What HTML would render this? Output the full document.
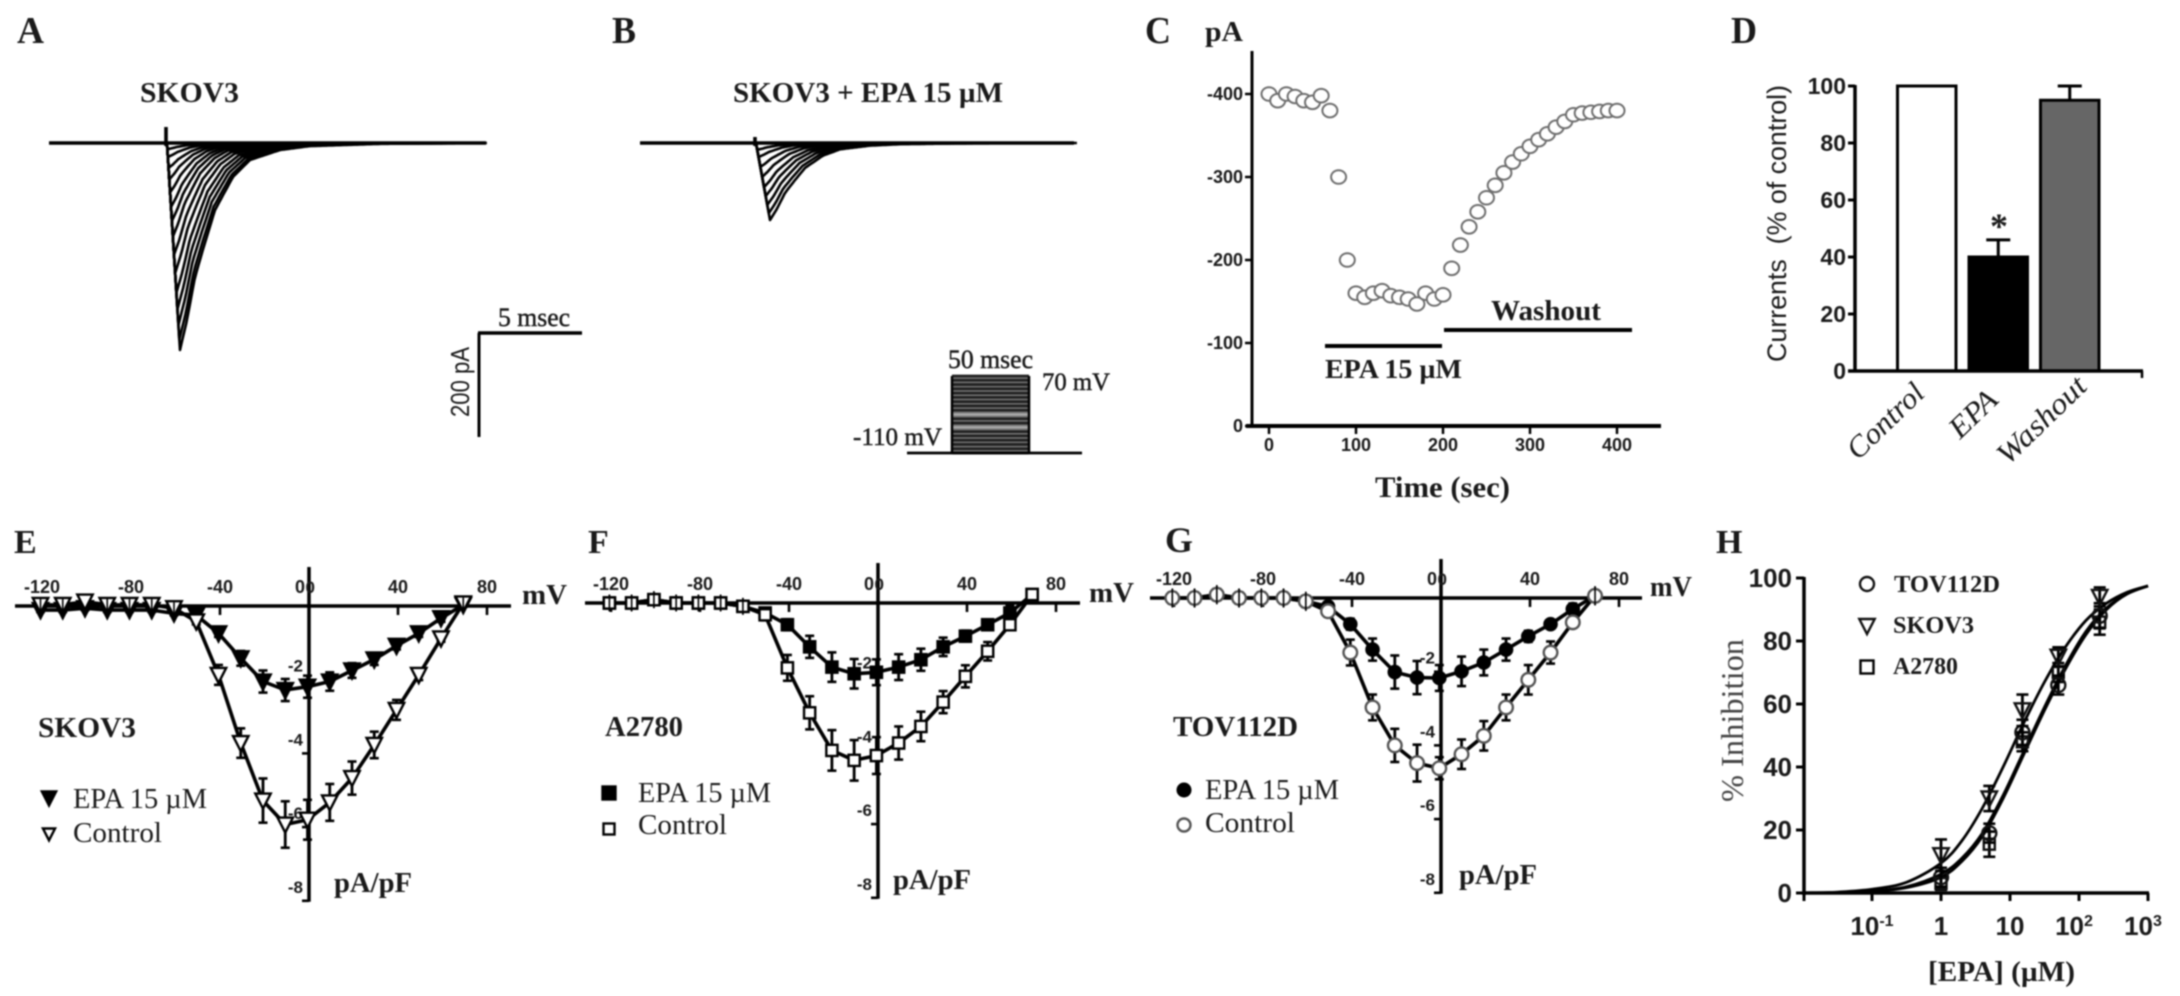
<!DOCTYPE html>
<html lang="en">
<head>
<meta charset="utf-8">
<title>EPA inhibition of sodium currents in ovarian cancer cells</title>
<style>
html,body{margin:0;padding:0;background:#fff;}
#figure{display:block;width:2180px;height:996px;filter:blur(0.8px);}
text{fill:#1a1a1a;}
.serif{font-family:"Liberation Serif",serif;}
.sans{font-family:"Liberation Sans",sans-serif;}
.b{font-weight:bold;}
.m{stroke:#1a1a1a;stroke-width:0.45;}
</style>
</head>
<body>
<svg id="figure" xmlns="http://www.w3.org/2000/svg" width="2180" height="996" viewBox="0 0 2180 996">
<rect x="0" y="0" width="2180" height="996" fill="#fff"/>
<g id="plots"></g>

<g class="serif b">
<text x="17" y="43" font-size="38" textLength="27" lengthAdjust="spacingAndGlyphs">A</text>
<text x="612" y="43" font-size="38" textLength="24" lengthAdjust="spacingAndGlyphs">B</text>
<text x="1145" y="43" font-size="38" textLength="26" lengthAdjust="spacingAndGlyphs">C</text>
<text x="1731" y="43" font-size="38" textLength="26" lengthAdjust="spacingAndGlyphs">D</text>
<text x="14" y="553" font-size="34">E</text>
<text x="588" y="553" font-size="34">F</text>
<text x="1165" y="552" font-size="36">G</text>
<text x="1716" y="553" font-size="34">H</text>
</g>

<g>
<text class="serif b" x="140" y="102" font-size="29" textLength="99" lengthAdjust="spacingAndGlyphs">SKOV3</text>
<text class="serif m" x="498" y="326" font-size="26" textLength="72" lengthAdjust="spacingAndGlyphs">5 msec</text>
<text class="sans" transform="translate(469,417) rotate(-90)" font-size="26" textLength="70" lengthAdjust="spacingAndGlyphs">200 pA</text>
</g>

<g class="serif">
<text class="b" x="733" y="102" font-size="29" textLength="270" lengthAdjust="spacingAndGlyphs">SKOV3 + EPA 15 µM</text>
<text class="m" x="948" y="368" font-size="26" textLength="85" lengthAdjust="spacingAndGlyphs">50 msec</text>
<text class="m" x="1042" y="390" font-size="25" textLength="68" lengthAdjust="spacingAndGlyphs">70 mV</text>
<text class="m" x="853" y="445" font-size="25" textLength="89" lengthAdjust="spacingAndGlyphs">-110 mV</text>
</g>

<g class="serif b">
<text x="1205" y="41" font-size="29" textLength="38" lengthAdjust="spacingAndGlyphs">pA</text>
<text x="1375" y="497" font-size="30" textLength="135" lengthAdjust="spacingAndGlyphs">Time (sec)</text>
<text x="1491" y="320" font-size="29" textLength="110" lengthAdjust="spacingAndGlyphs">Washout</text>
<text x="1325" y="378" font-size="27" textLength="137" lengthAdjust="spacingAndGlyphs">EPA 15 µM</text>
</g>

<g>
<text class="sans" xml:space="preserve" transform="translate(1786,362) rotate(-90)" font-size="27" textLength="277" lengthAdjust="spacingAndGlyphs">Currents  (% of control)</text>
<text class="serif b" x="1999" y="238" font-size="36" text-anchor="middle">*</text>
<text class="serif" font-style="italic" transform="translate(1858,461) rotate(-44)" font-size="30" textLength="95" lengthAdjust="spacingAndGlyphs">Control</text>
<text class="serif" font-style="italic" transform="translate(1960,440) rotate(-44)" font-size="30" textLength="55" lengthAdjust="spacingAndGlyphs">EPA</text>
<text class="serif" font-style="italic" transform="translate(2008,466) rotate(-44)" font-size="30" textLength="112" lengthAdjust="spacingAndGlyphs">Washout</text>
</g>

<g class="serif">
<text class="b" x="38" y="737" font-size="29" textLength="98" lengthAdjust="spacingAndGlyphs">SKOV3</text>
<text x="73" y="808" font-size="28" textLength="134" lengthAdjust="spacingAndGlyphs">EPA 15 µM</text>
<text x="73" y="842" font-size="29" textLength="89" lengthAdjust="spacingAndGlyphs">Control</text>
<text class="b" x="522" y="604" font-size="29" textLength="45" lengthAdjust="spacingAndGlyphs">mV</text>
<text class="b" x="334" y="892" font-size="29" textLength="78" lengthAdjust="spacingAndGlyphs">pA/pF</text>
</g>

<g class="serif">
<text class="b" x="605" y="736" font-size="29" textLength="78" lengthAdjust="spacingAndGlyphs">A2780</text>
<text x="638" y="802" font-size="28" textLength="133" lengthAdjust="spacingAndGlyphs">EPA 15 µM</text>
<text x="638" y="834" font-size="29" textLength="89" lengthAdjust="spacingAndGlyphs">Control</text>
<text class="b" x="1089" y="602" font-size="29" textLength="45" lengthAdjust="spacingAndGlyphs">mV</text>
<text class="b" x="893" y="889" font-size="29" textLength="78" lengthAdjust="spacingAndGlyphs">pA/pF</text>
</g>

<g class="serif">
<text class="b" x="1173" y="736" font-size="29" textLength="125" lengthAdjust="spacingAndGlyphs">TOV112D</text>
<text x="1205" y="799" font-size="28" textLength="134" lengthAdjust="spacingAndGlyphs">EPA 15 µM</text>
<text x="1205" y="832" font-size="29" textLength="90" lengthAdjust="spacingAndGlyphs">Control</text>
<text class="b" x="1650" y="596" font-size="29" textLength="42" lengthAdjust="spacingAndGlyphs">mV</text>
<text class="b" x="1459" y="884" font-size="29" textLength="78" lengthAdjust="spacingAndGlyphs">pA/pF</text>
</g>

<g class="serif">
<text class="b" x="1894" y="592" font-size="24" textLength="106" lengthAdjust="spacingAndGlyphs">TOV112D</text>
<text class="b" x="1893" y="633" font-size="24" textLength="81" lengthAdjust="spacingAndGlyphs">SKOV3</text>
<text class="b" x="1893" y="674" font-size="24" textLength="65" lengthAdjust="spacingAndGlyphs">A2780</text>
<text style="fill:#444" transform="translate(1743,802) rotate(-90)" font-size="32" textLength="163" lengthAdjust="spacingAndGlyphs">% Inhibition</text>
<text class="b" x="1928" y="981" font-size="29" textLength="147" lengthAdjust="spacingAndGlyphs">[EPA] (µM)</text>
</g>
</svg>

<script>
/* ---------- Panels A / B: current traces ---------- */
const tracePeaksControlPa = [398,378,350,320,288,250,215,180,150,123,95,70,48,27,12];
const tracePeaksEpaPa = [148,135,119,102,85,65,46,27,13];
const decayTimesMs = [0,0.34,0.73,1.21,1.7,2.57,3.4,4.85,6.3,9.7,14.9];
const decayFractions = [1,0.855,0.647,0.483,0.324,0.164,0.082,0.034,0.015,0.004,0];
const stepVoltagesMv = [-110,-100,-90,-80,-70,-60,-50,-40,-30,-20,-10,0,10,20,30,40,50,60,70];
const stepLightLevelsMv = [-50,-20];

/* ---------- Panel C: time course ---------- */
const timeSec = [0,10,20,30,40,50,60,70,80,90,100,110,120,130,140,150,160,170,180,190,200,210,220,230,240,250,260,270,280,290,300,310,320,330,340,350,360,370,380,390,400];
const currentPa = [-400,-392,-400,-397,-392,-390,-398,-380,-300,-200,-160,-155,-160,-163,-157,-155,-153,-147,-160,-153,-158,-190,-218,-240,-258,-275,-290,-305,-318,-328,-337,-345,-352,-360,-367,-375,-377,-378,-379,-380,-380];
const timeTicks = [0,100,200,300,400];
const currentTicks = [0,-100,-200,-300,-400];

/* ---------- Panel D: bars ---------- */
const barCategories = ['Control','EPA','Washout'];
const barValues = [100,40,95];
const barErrors = [0,6,5];
const barColors = ['#ffffff','#000000','#666666'];
const percentTicks = [0,20,40,60,80,100];

/* ---------- Panels E / F / G: I-V curves ---------- */
const ivVoltages = [-120,-110,-100,-90,-80,-70,-60,-50,-40,-30,-20,-10,0,10,20,30,40,50,60,70];
const ivXTicks = [-120,-80,-40,0,40,80];
const ivYTicks = [0,-2,-4,-6,-8];

const skovEpa = [-0.11,-0.11,-0.06,-0.11,-0.11,-0.11,-0.2,-0.25,-0.74,-1.42,-2.05,-2.28,-2.19,-2.05,-1.75,-1.45,-1.08,-0.74,-0.33,0.03];
const skovEpaErr = [0.05,0.05,0.05,0.05,0.05,0.05,0.05,0.08,0.1,0.2,0.3,0.3,0.3,0.25,0.2,0.15,0.1,0.1,0.1,0.05];
const skovControl = [0.03,0.03,0.12,0.03,0.03,0.03,-0.06,-0.42,-1.87,-3.72,-5.28,-5.93,-5.8,-5.33,-4.67,-3.77,-2.82,-1.87,-0.88,0.07];
const skovControlErr = [0.05,0.05,0.05,0.05,0.05,0.05,0.05,0.08,0.27,0.4,0.6,0.63,0.54,0.5,0.45,0.36,0.27,0.14,0.09,0.05];

const a2780Epa = [0,0,0.09,0,0,0,-0.09,-0.27,-0.59,-1.19,-1.74,-1.92,-1.88,-1.74,-1.54,-1.19,-0.9,-0.59,-0.27,0.23];
const a2780EpaErr = [0.12,0.12,0.12,0.12,0.12,0.12,0.12,0.1,0.15,0.3,0.4,0.4,0.35,0.35,0.3,0.25,0.15,0.1,0.2,0.12];
const a2780Control = [0,0,0.09,0,0,0,-0.09,-0.32,-1.76,-2.98,-4,-4.27,-4.14,-3.8,-3.35,-2.69,-1.99,-1.31,-0.59,0.23];
const a2780ControlErr = [0.12,0.12,0.12,0.12,0.12,0.12,0.12,0.15,0.35,0.45,0.55,0.55,0.5,0.45,0.4,0.3,0.3,0.25,0.1,0.12];

const tovEpa = [0,0,0.09,0,0,0,-0.09,-0.23,-0.71,-1.4,-2.01,-2.16,-2.17,-1.99,-1.75,-1.4,-1.04,-0.71,-0.3,0.06];
const tovEpaErr = [0.15,0.15,0.15,0.15,0.15,0.15,0.15,0.1,0.15,0.3,0.45,0.45,0.35,0.4,0.35,0.3,0.15,0.1,0.15,0.15];
const tovControl = [0,0,0.09,0,0,0,-0.09,-0.36,-1.48,-2.97,-4,-4.48,-4.62,-4.24,-3.74,-2.97,-2.22,-1.48,-0.66,0.06];
const tovControlErr = [0.15,0.15,0.15,0.15,0.15,0.15,0.15,0.15,0.35,0.35,0.45,0.5,0.3,0.4,0.4,0.35,0.4,0.3,0.1,0.15];

/* ---------- Panel H: dose-response ---------- */
const doseLog10 = [0,0.7,1.18,1.7,2.3];
const skovInhibition = [12,30,58,75,94];
const skovInhibitionErr = [5,4,5,3,3];
const tovInhibition = [5,19,51,66,88];
const tovInhibitionErr = [3,3,4,3,4];
const a2780Inhibition = [3,15.5,48,70,86];
const a2780InhibitionErr = [2,4,3,3,4];
const fitLog10 = [-2,-1.5,-1,-0.5,0,0.3,0.6,0.9,1.2,1.5,1.8,2.1,2.4,2.7,3];
const skovFit = [0,0.3,1.2,3.4,9.5,16.5,27,40,54,67,78,86.5,92,95.5,97.5];
const tovFit = [0,0.1,0.6,2,6,11,19,31,45,59,72,83,90.5,95,97.5];
const a2780Fit = [0,0.1,0.5,1.7,5,10,18,30,44,58,71,82,90,95,97.5];
const inhibitionTicks = [0,20,40,60,80,100];
const logTicks = [-1,0,1,2,3];
const logTickBases = ['10','1','10','10','10'];
const logTickExponents = ['-1','','','2','3'];

/* ---------- helpers ---------- */
const NS = 'http://www.w3.org/2000/svg';
const plots = document.getElementById('plots');
function shape(parent, tag, attrs, name) {
  const el = document.createElementNS(NS, tag);
  for (const k in attrs) el.setAttribute(k, attrs[k]);
  
  
  parent.appendChild(el);
  return el;
}
function group(parent, name) { return shape(parent, 'g', {}, name); }
function line(parent, name, x1, y1, x2, y2, w, color) {
  return shape(parent, 'line', {x1, y1, x2, y2, stroke: color || '#000', 'stroke-width': w}, name);
}
function label(parent, name, x, y, str, size, anchor, extra) {
  const attrs = Object.assign({x, y, 'font-size': size, 'text-anchor': anchor || 'middle', 'font-family': '"Liberation Sans",sans-serif', 'font-weight': 'bold'}, extra || {});
  const el = shape(parent, 'text', attrs, name);
  el.textContent = str;
  return el;
}
function polyline(parent, name, pts, w, color) {
  return shape(parent, 'polyline', {points: pts.map(p => p[0].toFixed(1) + ',' + p[1].toFixed(1)).join(' '), fill: 'none', stroke: color || '#000', 'stroke-width': w, 'stroke-linejoin': 'round'}, name);
}
function marker(parent, name, kind, x, y, filled, s) {
  const fill = filled ? '#000' : '#fff';
  if (kind === 'circle') return shape(parent, 'circle', {cx: x, cy: y, r: s, fill: filled ? '#000' : '#fff', stroke: filled ? '#000' : '#555', 'stroke-width': filled ? 1 : 2.4}, name);
  if (kind === 'square') return shape(parent, 'rect', {x: x - s, y: y - s, width: 2 * s, height: 2 * s, fill, stroke: '#000', 'stroke-width': 2.4}, name);
  return shape(parent, 'polygon', {points: (x - s * 1.1) + ',' + (y - s) + ' ' + (x + s * 1.1) + ',' + (y - s) + ' ' + x + ',' + (y + s * 1.15), fill, stroke: '#000', 'stroke-width': 2.4, 'stroke-linejoin': 'miter'}, name);
}
function errorBar(parent, x, yTop, yBot, cap) {
  const g = group(parent, 'error-bar');
  line(g, 'error-stem', x, yTop, x, yBot, 2.8);
  line(g, 'error-cap-top', x - cap, yTop, x + cap, yTop, 2.6);
  line(g, 'error-cap-bottom', x - cap, yBot, x + cap, yBot, 2.6);
}

/* ---------- A/B traces ---------- */
const pxPerMs = 20.6, pxPerPa = 0.52;
function interpDecay(ms) {
  for (let i = 1; i < decayTimesMs.length; i++) {
    if (ms <= decayTimesMs[i]) {
      const f = (ms - decayTimesMs[i - 1]) / (decayTimesMs[i] - decayTimesMs[i - 1]);
      return decayFractions[i - 1] + f * (decayFractions[i] - decayFractions[i - 1]);
    }
  }
  return 0;
}
function drawTraces(name, peaks, onsetX, endX, startX, baseY, spikeTop, peakDelayMs) {
  const g = group(plots, name);
  const maxPa = Math.max.apply(null, peaks);
  const xT = ms => onsetX + ms * pxPerMs;
  const yI = pa => baseY + pa * pxPerPa;
  peaks.forEach(pa => {
    const rel = pa / maxPa;
    const peakMs = peakDelayMs * rel;
    const width = 0.6 + 0.4 * rel;
    const pts = [[xT(0), baseY], [xT(peakMs), yI(pa)]];
    for (let t = 0.1; t <= 14.9; t += 0.1) {
      pts.push([xT(peakMs + t * width), yI(pa * interpDecay(t))]);
    }
    polyline(g, 'current-trace', pts, 2.6);
  });
  line(g, 'trace-baseline', startX, baseY, endX, baseY, 3.6);
  line(g, 'stimulus-artifact', onsetX - 1, spikeTop, onsetX - 1, baseY + 3, 3.6);
}
drawTraces('panel-a-traces', tracePeaksControlPa, 167, 486, 49, 143, 127, 0.63);
drawTraces('panel-b-traces', tracePeaksEpaPa, 756, 1074, 640, 143, 137, 0.68);

const scaleBar = group(plots, 'scale-bar');
line(scaleBar, 'time-scale-bar', 478, 333, 582, 333, 3.4);
line(scaleBar, 'current-scale-bar', 479, 333, 479, 437, 3);

const stim = group(plots, 'voltage-step-protocol');
const yStep = mv => 453 - (mv + 110) * 77 / 180;
shape(stim, 'rect', {x: 952, y: yStep(70), width: 77, height: yStep(-110) - yStep(70), fill: '#777'}, 'step-box');
stepVoltagesMv.forEach(mv => {
  const light = stepLightLevelsMv.indexOf(mv) >= 0;
  line(stim, 'step-level', 952, yStep(mv), 1029, yStep(mv), light ? 2.2 : 2.8, light ? '#aaa' : '#222');
});
line(stim, 'step-left-edge', 952, yStep(70), 952, yStep(-110), 2.5);
line(stim, 'step-right-edge', 1029, yStep(70), 1029, yStep(-110), 2.5);
line(stim, 'step-holding-line', 907, 453, 1082, 453, 2.8);

/* ---------- C ---------- */
const xC = t => 1269 + 0.87 * t;
const yC = v => 426 + 0.83 * v;
const panelC = group(plots, 'panel-c-time-course');
line(panelC, 'y-axis', 1252, 51, 1252, 428, 3);
line(panelC, 'x-axis', 1246, 426, 1661, 426, 4);
timeTicks.forEach(t => {
  line(panelC, 'x-tick', xC(t), 426, xC(t), 434, 2.5);
  label(panelC, 'x-tick-label', xC(t), 451, String(t), 18);
});
currentTicks.forEach(v => {
  line(panelC, 'y-tick', 1245, yC(v), 1252, yC(v), 2.5);
  label(panelC, 'y-tick-label', 1243, yC(v) + 6, String(v), 18, 'end');
});
line(panelC, 'epa-period-bar', 1325, 346, 1442, 346, 4);
line(panelC, 'washout-period-bar', 1444, 330, 1632, 330, 4);
timeSec.forEach((t, i) => {
  shape(panelC, 'ellipse', {cx: xC(t), cy: yC(currentPa[i]), rx: 7.5, ry: 6.8, fill: '#fff', stroke: '#6e6e6e', 'stroke-width': 2}, 'current-point');
});

/* ---------- D ---------- */
const yD = v => 371 - 2.85 * v;
const panelD = group(plots, 'panel-d-bars');
barValues.forEach((v, i) => {
  const x = 1897.5 + i * 71.5, w = 58.5, mid = x + w / 2;
  if (barErrors[i] > 0) {
    line(panelD, 'bar-error-stem', mid, yD(v), mid, yD(v + barErrors[i]), 3);
    line(panelD, 'bar-error-cap', mid - 12, yD(v + barErrors[i]), mid + 12, yD(v + barErrors[i]), 3);
  }
  shape(panelD, 'rect', {x, y: yD(v), width: w, height: yD(0) - yD(v), fill: barColors[i], stroke: '#000', 'stroke-width': 3}, 'bar-' + barCategories[i].toLowerCase());
});
line(panelD, 'y-axis', 1855, 85, 1855, 372, 3.5);
line(panelD, 'x-axis', 1848, 371, 2143, 371, 3.5);
line(panelD, 'x-axis-end-tick', 2142, 371, 2142, 378, 2.5);
percentTicks.forEach(v => {
  line(panelD, 'y-tick', 1848, yD(v), 1855, yD(v), 3);
  label(panelD, 'y-tick-label', 1846, yD(v) + 8, String(v), 23, 'end');
});

/* ---------- E/F/G ---------- */
function drawIV(name, kind, epa, epaErr, ctl, ctlErr, g0) {
  const g = group(plots, name);
  const xV = v => g0.x0 + 2.225 * v;
  const yA = v => g0.y0 - 36.85 * v;
  line(g, 'x-axis', g0.left, g0.y0, g0.right, g0.y0, 3.5);
  line(g, 'y-axis', g0.axisX, g0.top, g0.axisX, yA(-8) + 1, 3.5);
  ivXTicks.forEach(v => {
    const tx = g0.axisX + 2.225 * v;
    line(g, 'x-tick', tx, g0.y0, tx, g0.y0 + 9, 2.6);
    label(g, 'x-tick-label', v === 0 ? tx - 9 : tx, g0.y0 - 13, String(v), 18);
  });
  ivYTicks.forEach(v => {
    if (v !== 0) line(g, 'y-tick', g0.axisX - 7, yA(v), g0.axisX, yA(v), 2.6);
    label(g, 'y-tick-label', v === 0 ? g0.axisX + 6 : g0.axisX - 6, v === 0 ? g0.y0 - 13 : yA(v) - 8, String(v), 17, 'end');
  });
  [[epa, epaErr, true], [ctl, ctlErr, false]].forEach(s => {
    const sg = group(g, s[2] ? 'series-epa' : 'series-control');
    polyline(sg, 'series-line', ivVoltages.map((v, i) => [xV(v), yA(s[0][i])]), 3.6);
    ivVoltages.forEach((v, i) => {
      errorBar(sg, xV(v), yA(s[0][i] + s[1][i]), yA(s[0][i] - s[1][i]), 4.5);
    });
    ivVoltages.forEach((v, i) => {
      marker(sg, 'data-point', kind, xV(v), yA(s[0][i]), s[2], kind === 'circle' ? 6.8 : kind === 'square' ? 5.6 : 7);
    });
    const cross = group(sg, 'marker-crosshairs');
    ivVoltages.forEach((v, i) => {
      if (Math.abs(s[0][i]) < 0.12) line(cross, 'point-error-through-marker', xV(v), yA(s[0][i] + s[1][i]) - 4, xV(v), yA(s[0][i] - s[1][i]) + 4, 1.6);
    });
  });
  marker(g, 'legend-epa-marker', kind, g0.legX, g0.legY1, true, kind === 'circle' ? 7 : 6.5);
  marker(g, 'legend-control-marker', kind, g0.legX, g0.legY2, false, kind === 'circle' ? 6.5 : 5.5);
}
drawIV('panel-e-iv-curve', 'triangle', skovEpa, skovEpaErr, skovControl, skovControlErr, {x0: 307.5, axisX: 309, y0: 606, left: 15, right: 511, top: 567, legX: 49, legY1: 798, legY2: 834});
drawIV('panel-f-iv-curve', 'square', a2780Epa, a2780EpaErr, a2780Control, a2780ControlErr, {x0: 876.4, axisX: 878, y0: 603, left: 585, right: 1080, top: 563, legX: 609, legY1: 793, legY2: 829});
drawIV('panel-g-iv-curve', 'circle', tovEpa, tovEpaErr, tovControl, tovControlErr, {x0: 1439.3, axisX: 1441, y0: 598, left: 1150, right: 1642, top: 559, legX: 1184, legY1: 790, legY2: 825});

/* ---------- H ---------- */
const xH = l => 1941 + 69 * l;
const yH = v => 893 - 3.15 * v;
const panelH = group(plots, 'panel-h-dose-response');
function smoothPath(xs, ys) {
  const p = xs.map((x, i) => [xH(x), yH(ys[i])]);
  let d = 'M' + p[0][0].toFixed(1) + ' ' + p[0][1].toFixed(1);
  for (let i = 0; i < p.length - 1; i++) {
    const a = p[Math.max(i - 1, 0)], b = p[i], c = p[i + 1], e = p[Math.min(i + 2, p.length - 1)];
    d += ' C' + (b[0] + (c[0] - a[0]) / 6).toFixed(1) + ' ' + (b[1] + (c[1] - a[1]) / 6).toFixed(1) + ' ' + (c[0] - (e[0] - b[0]) / 6).toFixed(1) + ' ' + (c[1] - (e[1] - b[1]) / 6).toFixed(1) + ' ' + c[0].toFixed(1) + ' ' + c[1].toFixed(1);
  }
  return d;
}
[[a2780Fit, 'fit-curve-a2780'], [tovFit, 'fit-curve-tov112d'], [skovFit, 'fit-curve-skov3']].forEach(c => {
  shape(panelH, 'path', {d: smoothPath(fitLog10, c[0]), fill: 'none', stroke: '#000', 'stroke-width': 2.8}, c[1]);
});
[[a2780Inhibition, a2780InhibitionErr, 'square', 5.5, 'a2780'], [tovInhibition, tovInhibitionErr, 'circle', 7, 'tov112d'], [skovInhibition, skovInhibitionErr, 'triangle', 7, 'skov3']].forEach(s => {
  const sg = group(panelH, 'points-' + s[4]);
  doseLog10.forEach((l, i) => {
    errorBar(sg, xH(l), yH(s[0][i] + s[1][i]), yH(s[0][i] - s[1][i]), 6);
    const m = marker(sg, 'data-point', s[2], xH(l), yH(s[0][i]), false, s[3]);
    m.setAttribute('fill', 'none');
    m.setAttribute('stroke', '#111');
  });
});
line(panelH, 'y-axis', 1804, 577, 1804, 895, 3.5);
line(panelH, 'x-axis', 1802, 893, 2149, 893, 3.5);
inhibitionTicks.forEach(v => {
  line(panelH, 'y-tick', 1796, yH(v), 1804, yH(v), 3);
  label(panelH, 'y-tick-label', 1792, yH(v) + 9, String(v), 26, 'end');
});
line(panelH, 'x-tick-left-end', 1804, 893, 1804, 901, 3);
logTicks.forEach((l, i) => {
  line(panelH, 'x-tick', xH(l), 893, xH(l), 901, 3);
  const t = label(panelH, 'x-tick-label', xH(l) - (l >= 2 ? 5 : 0), 935, logTickBases[i], 26);
  if (logTickExponents[i]) {
    const sup = document.createElementNS(NS, 'tspan');
    sup.setAttribute('dy', '-9');
    sup.setAttribute('font-size', '16');
    sup.textContent = logTickExponents[i];
    t.appendChild(sup);
  }
});
marker(panelH, 'legend-tov112d-marker', 'circle', 1867, 584, false, 7).setAttribute('stroke', '#111');
marker(panelH, 'legend-skov3-marker', 'triangle', 1867, 626, false, 7).setAttribute('stroke', '#111');
marker(panelH, 'legend-a2780-marker', 'square', 1867, 667, false, 6.5);
</script>
</body>
</html>
